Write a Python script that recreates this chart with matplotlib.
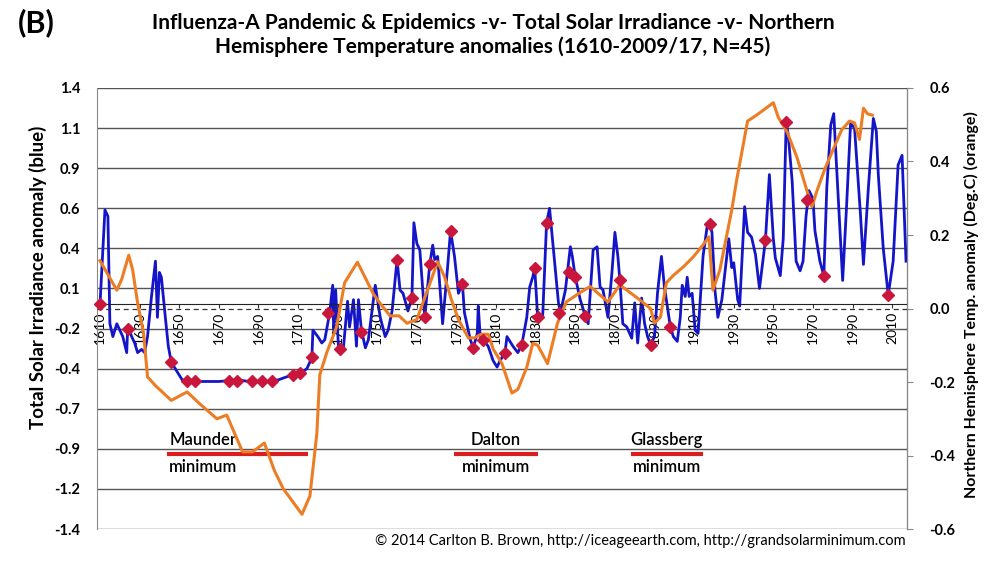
import matplotlib
matplotlib.use("Agg")
import matplotlib.pyplot as plt

plt.rcParams['font.family'] = ['Lato', 'DejaVu Sans']

# total solar irradiance anomaly (left axis, blue)
tsi_years = [1610, 1612.5, 1614, 1615, 1616.5, 1618.5, 1620, 1621.5, 1623.5, 1624, 1626, 1627.5,
             1629, 1631, 1632.5, 1634, 1636, 1638, 1639, 1640, 1641, 1643, 1644.5, 1646, 1649,
             1651.5, 1660, 1670, 1680, 1685, 1695, 1700, 1704.5, 1707.5, 1711, 1714.5, 1717,
             1717.5, 1720, 1722, 1723.5, 1725, 1726, 1727.5, 1728, 1729, 1730.5, 1733, 1735,
             1736, 1738, 1739.5, 1740.5, 1742, 1744, 1745.5, 1749, 1751.5, 1754, 1755.5, 1757.5,
             1760, 1761.5, 1763, 1765.5, 1767.5, 1768.5, 1770, 1771.5, 1773, 1774, 1776.5, 1778,
             1779, 1780.5, 1783, 1785.5, 1787, 1789, 1791, 1793, 1794, 1797, 1798.5, 1800.5,
             1801, 1802, 1803.5, 1806, 1808.5, 1810.5, 1812, 1814.5, 1815.5, 1817, 1818.5, 1821,
             1823, 1825.5, 1827, 1828.5, 1829.5, 1831, 1833.5, 1835.5, 1837, 1839, 1841.5,
             1842.5, 1845, 1847.5, 1848.5, 1850, 1852.5, 1855, 1856.5, 1859, 1861, 1862.5, 1864,
             1866.5, 1868.5, 1870, 1871.5, 1872.5, 1874, 1876, 1878.5, 1880, 1881.5, 1883.5,
             1885, 1886.5, 1888, 1890, 1891.5, 1893.5, 1895, 1898, 1899.5, 1901.5, 1903, 1904,
             1905.5, 1906.5, 1907.5, 1909, 1910.5, 1912, 1914.5, 1916.5, 1918, 1919, 1920.5,
             1922, 1924, 1926.5, 1927.5, 1929, 1930, 1932, 1933, 1935.5, 1937, 1939, 1941,
             1943, 1946, 1948, 1950, 1951, 1953.5, 1955, 1956.5, 1957.5, 1959.5, 1961.5, 1963.5,
             1965, 1966.5, 1968, 1970, 1971, 1973.5, 1975.5, 1977, 1979, 1980.5, 1982.5, 1985,
             1987, 1989, 1991, 1994, 1995.5, 1998, 2000.5, 2002, 2003, 2005.5, 2008, 2010.5,
             2013, 2015, 2017]
tsi_vals = [0.0, 0.59, 0.55, -0.12, -0.2, -0.12, -0.16, -0.2, -0.3, -0.14, -0.2, -0.24,
            -0.3, -0.28, -0.3, -0.2, 0.05, 0.27, -0.08, 0.2, 0.17, -0.08, -0.26, -0.36, -0.42,
            -0.47, -0.48, -0.48, -0.47, -0.48, -0.48, -0.47, -0.45, -0.44, -0.43, -0.4, -0.33,
            -0.16, -0.2, -0.24, -0.22, -0.12, -0.05, 0.12, -0.16, 0.09, -0.29, -0.26, 0.02,
            -0.14, 0.03, -0.26, 0.03, -0.16, -0.27, -0.22, 0.12, -0.08, -0.2, -0.16, -0.04,
            0.28, 0.09, 0.07, -0.04, 0.04, 0.51, 0.38, 0.34, 0.09, -0.08, 0.25, 0.37,
            0.28, 0.3, -0.12, 0.23, 0.46, 0.3, 0.07, 0.13, -0.05, -0.22, -0.27, -0.18,
            -0.01, -0.2, -0.22, -0.26, -0.35, -0.39, -0.35, -0.3, -0.2, -0.23, -0.26, -0.3,
            -0.25, -0.08, 0.11, 0.17, 0.23, -0.08, -0.08, 0.51, 0.6, 0.34, 0.01,
            -0.05, 0.09, 0.36, 0.3, 0.17, 0.03, -0.07, -0.12, 0.34, 0.36, 0.11, 0.09,
            -0.08, 0.2, 0.45, 0.3, 0.15, -0.12, -0.14, -0.21, 0.01, -0.24, 0.04,
            -0.12, -0.2, -0.25, -0.2, 0.07, 0.3, 0.11, -0.14, -0.2, -0.23, -0.08, 0.12,
            0.05, 0.17, 0.05, 0.07, -0.16, -0.18, 0.3, 0.48, 0.5, 0.45, 0.09,
            -0.08, 0.03, 0.3, 0.41, 0.23, 0.26, 0.03, -0.01, 0.61, 0.45, 0.42, 0.31,
            0.1, 0.4, 0.81, 0.41, 0.29, 0.18, 0.41, 1.14, 1.06, 0.77, 0.27, 0.21,
            0.27, 0.55, 0.71, 0.66, 0.46, 0.27, 0.18, 0.73, 1.12, 1.19, 0.73, 0.15,
            0.62, 1.13, 1.1, 0.56, 0.25, 0.73, 1.16, 1.08, 0.81, 0.35, 0.06, 0.27,
            0.87, 0.93, 0.27]

# northern hemisphere temperature anomaly (right axis, orange)
temp_years = [1610, 1618.5, 1621, 1624.5, 1626.5, 1629, 1632, 1634, 1638, 1646, 1654, 1660.5,
              1669, 1674, 1682, 1687, 1693, 1698, 1702.5, 1712, 1716, 1719.5, 1721, 1724.5,
              1729.5, 1733.5, 1740, 1748, 1752, 1756.5, 1761, 1765, 1770, 1774, 1780.5, 1784,
              1787.5, 1791, 1796, 1799, 1802.5, 1806, 1808.5, 1813, 1818, 1821, 1825.5, 1828.5,
              1831, 1836, 1841, 1845.5, 1851.5, 1857.5, 1866.5, 1872.5, 1881, 1888, 1890, 1893,
              1896, 1899.5, 1904.5, 1909.5, 1914.5, 1917.5, 1919.5, 1923, 1926.5, 1929, 1931.5,
              1937, 1941.5, 1950, 1952.5, 1957, 1962, 1967, 1969.5, 1972, 1976, 1980, 1984.5,
              1988.5, 1991, 1993.5, 1995.5, 1997.5, 2000]
temp_vals = [0.13, 0.05, 0.08, 0.145, 0.105, 0.015, -0.067, -0.186, -0.21, -0.25, -0.227, -0.26,
             -0.3, -0.29, -0.39, -0.39, -0.366, -0.44, -0.49, -0.56, -0.51, -0.34, -0.18, -0.12,
             -0.05, 0.07, 0.126, 0.04, 0.01, -0.02, -0.02, -0.04, -0.03, 0.03, 0.127, 0.086,
             0.023, -0.03, -0.08, -0.08, -0.07, -0.07, -0.11, -0.15, -0.23, -0.22, -0.16, -0.095,
             -0.1, -0.15, -0.04, 0.018, 0.04, 0.06, 0.018, 0.064, 0.03, 0.0, -0.04, -0.023,
             0.07, 0.09, 0.113, 0.14, 0.173, 0.195, 0.05, 0.105, 0.2, 0.268, 0.35,
             0.51, 0.526, 0.56, 0.52, 0.48, 0.41, 0.32, 0.277, 0.32, 0.38, 0.43, 0.486,
             0.51, 0.505, 0.46, 0.545, 0.53, 0.526]

# influenza-A pandemic / epidemic years (marked on the TSI curve)
flu_years = [1610, 1624, 1646, 1654, 1658, 1675, 1679, 1687, 1692, 1697, 1707.5, 1711, 1717,
             1725, 1731, 1742, 1760, 1767.5, 1774, 1776.5, 1787, 1793, 1798.5, 1803.5, 1814.5,
             1823, 1829.5, 1831, 1835.5, 1842, 1847, 1850, 1855, 1872.5, 1888, 1898, 1918,
             1946, 1956.5, 1967, 1975.5, 2008]
flu_vals = [0.0, -0.15, -0.36, -0.48, -0.48, -0.48, -0.48, -0.48, -0.48, -0.48, -0.44, -0.43, -0.33,
            -0.05, -0.28, -0.17, 0.28, 0.04, -0.08, 0.25, 0.46, 0.13, -0.27, -0.22, -0.3,
            -0.25, 0.23, -0.08, 0.51, -0.05, 0.2, 0.17, -0.07, 0.15, -0.25, -0.14, 0.5,
            0.4, 1.14, 0.65, 0.18, 0.06]

left_ticks = [1.35, 1.1, 0.85, 0.6, 0.35, 0.1, -0.15, -0.4, -0.65, -0.9, -1.15, -1.4]
left_labels = ["1.4", "1.1", "0.9", "0.6", "0.4", "0.1", "-0.2", "-0.4", "-0.7", "-0.9", "-1.2", "-1.4"]
right_ticks = [0.6, 0.4, 0.2, 0.0, -0.2, -0.4, -0.6]
right_labels = ["0.6", "0.4", "0.2", "0.0", "-0.2", "-0.4", "-0.6"]
year_ticks = list(range(1610, 2011, 20))

minima = [("Maunder", 1644, 1715), ("Dalton", 1789, 1831), ("Glassberg", 1878, 1914.5)]

fig = plt.figure(figsize=(9.86, 5.64), dpi=100)
ax = fig.add_axes([0.0984, 0.062, 0.8215, 0.782])
ax2 = ax.twinx()

ax.set_xlim(1608.5, 2017.5)
ax.set_ylim(-1.4, 1.35)
ax2.set_ylim(-0.6, 0.6)

# x axis crosses at TSI = 0 (must be set before the tick labels)
ax.spines['bottom'].set_position(('data', 0))
ax.spines['bottom'].set_color('#222222')
ax.spines['top'].set_visible(False)
ax.spines['left'].set_color('#888888')
for s in ['top', 'bottom', 'left']:
    ax2.spines[s].set_visible(False)
ax2.spines['right'].set_color('#888888')

ax.set_yticks(left_ticks)
ax.set_yticklabels(left_labels, fontweight='bold', fontsize=10.5)
ax.grid(axis='y', color='#555555', lw=1)
ax.set_axisbelow(True)
ax.tick_params(axis='y', length=0, pad=12)

ax.set_xticks(year_ticks)
ax.set_xticklabels([str(y) for y in year_ticks], fontsize=10)
ax.tick_params(axis='x', length=3, pad=2, color='#333333', labelrotation=90)

ax2.set_yticks(right_ticks)
ax2.set_yticklabels(right_labels, fontweight='bold', fontsize=10.5)
ax2.tick_params(axis='y', length=4, color='#888888', pad=12)

ax.plot(tsi_years, tsi_vals, color='#1414c8', lw=2)
ax2.axhline(0, color='#333333', lw=0.9, ls=(0, (4, 3)))
ax2.plot(temp_years, temp_vals, color='#ec7d25', lw=2.2)
ax2.plot(flu_years, flu_vals, 'D', color='#c8163c', ms=6.5, transform=ax.transData,
         zorder=5, clip_on=False)

for name, y0, y1 in minima:
    ax.plot([y0, y1], [-0.93, -0.93], color='#d81e1e', lw=3, solid_capstyle='butt')
    xc = y0 + 1 if name == "Maunder" else (y0 + y1) / 2
    ha = 'left' if name == "Maunder" else 'center'
    ax.text(xc, -0.895, name, ha=ha, va='bottom', fontsize=12, fontweight='semibold')
    ax.text(xc, -0.965, "minimum", ha=ha, va='top', fontsize=12, fontweight='semibold')

ax.set_ylabel("Total Solar Irradiance anomaly (blue)", fontweight='bold', fontsize=13.5)
ax.yaxis.set_label_coords(-0.062, 0.57)
ax2.set_ylabel("Northern Hemisphere Temp. anomaly (Deg.C) (orange)", fontweight='bold',
               fontsize=11.5)
ax2.yaxis.set_label_coords(1.07, 0.51)

fig.text(0.5, 0.938, "Influenza-A Pandemic & Epidemics -v- Total Solar Irradiance -v- Northern\n"
         "Hemisphere Temperature anomalies (1610-2009/17, N=45)",
         ha='center', va='center', fontsize=15, fontweight='bold', linespacing=1.25)
fig.text(0.018, 0.96, "(B)", ha='left', va='center', fontsize=22, fontweight='bold')
fig.text(0.918, 0.04, "\u00a9 2014 Carlton B. Brown, http://iceageearth.com, http://grandsolarminimum.com",
         ha='right', va='center', fontsize=10.5)

fig.savefig("out.png", dpi=100)
